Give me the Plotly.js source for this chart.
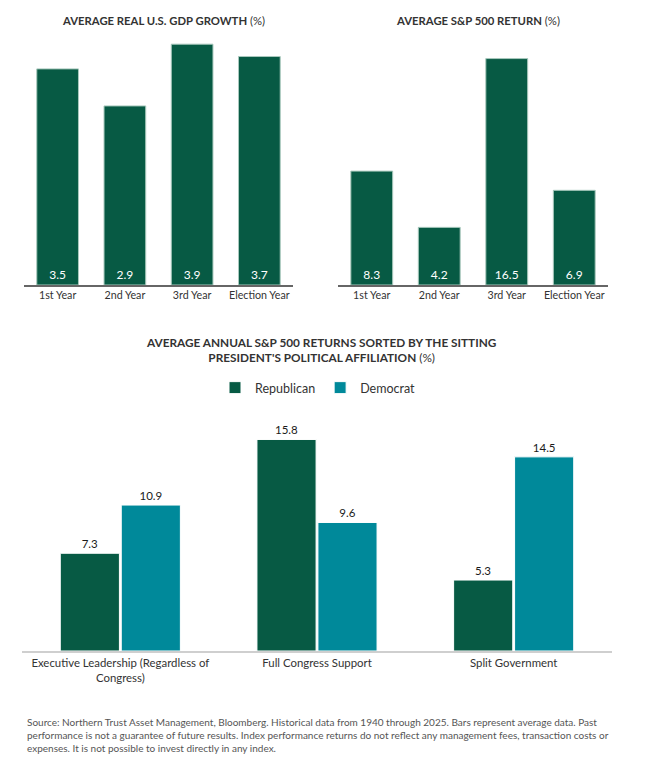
<!DOCTYPE html>
<html>
<head>
<meta charset="utf-8">
<script src="https://cdn.plot.ly/plotly-3.0.1.min.js"></script>
<style>html,body{margin:0;padding:0;background:#fff;}#chart{width:657px;height:769px;}</style>
</head>
<body>
<div id="chart"></div>
<script>
const yearCategories = ["1st Year", "2nd Year", "3rd Year", "Election Year"];
const gdpGrowth = [3.5, 2.9, 3.9, 3.7];
const spReturn = [8.3, 4.2, 16.5, 6.9];

const groupCategories = ["Executive Leadership (Regardless of<br>Congress)", "Full Congress Support", "Split Government"];
const republicanReturns = [7.3, 15.8, 5.3];
const democratReturns = [10.9, 9.6, 14.5];

const W = 657, H = 769;
const px = v => v / W;
const py = v => 1 - v / H;

const GREEN = "#075a44";
const TEAL = "#00899a";
const FONT = "Lato, 'Open Sans', sans-serif";

const fmt = a => a.map(v => v.toFixed(1));

const traces = [
  {
    type: "bar", x: yearCategories, y: gdpGrowth, xaxis: "x", yaxis: "y",
    marker: {color: GREEN, line: {color: "#a9c9bd", width: 1}},
    text: fmt(gdpGrowth), textposition: "inside", insidetextanchor: "start",
    textfont: {color: "#ffffff", size: 12, family: FONT}, constraintext: "none",
    width: 0.62, showlegend: false, hoverinfo: "skip"
  },
  {
    type: "bar", x: yearCategories, y: spReturn, xaxis: "x2", yaxis: "y2",
    marker: {color: GREEN, line: {color: "#a9c9bd", width: 1}},
    text: fmt(spReturn), textposition: "inside", insidetextanchor: "start",
    textfont: {color: "#ffffff", size: 12, family: FONT}, constraintext: "none",
    width: 0.62, showlegend: false, hoverinfo: "skip"
  },
  {
    type: "bar", name: "Republican", x: groupCategories, y: republicanReturns, xaxis: "x3", yaxis: "y3",
    marker: {color: GREEN, line: {color: "#ffffff", width: 1}},
    text: fmt(republicanReturns), textposition: "outside", cliponaxis: false,
    textfont: {color: "#1a1a1a", size: 11.5, family: FONT}
  },
  {
    type: "bar", name: "Democrat", x: groupCategories, y: democratReturns, xaxis: "x3", yaxis: "y3",
    marker: {color: TEAL, line: {color: "#ffffff", width: 1}},
    text: fmt(democratReturns), textposition: "outside", cliponaxis: false,
    textfont: {color: "#1a1a1a", size: 11.5, family: FONT}
  }
];

const baseX = {
  showgrid: false, zeroline: false, showline: true, linewidth: 1.5, linecolor: "#666",
  ticks: "", tickfont: {size: 10.7, color: "#333", family: FONT}, fixedrange: true
};
const baseY = {showgrid: false, zeroline: false, showline: false, showticklabels: false, ticks: "", fixedrange: true};

const layout = {
  width: W, height: H,
  margin: {l: 0, r: 0, t: 0, b: 0},
  paper_bgcolor: "#ffffff", plot_bgcolor: "#ffffff",
  font: {family: FONT, color: "#333"},
  barmode: "group", bargap: 0.38, bargroupgap: 0.03,
  xaxis: Object.assign({}, baseX, {domain: [px(24), px(293)], range: [-0.5, 3.5], anchor: "y"}),
  yaxis: Object.assign({}, baseY, {domain: [py(285), py(38)], range: [0, 4.0], anchor: "x"}),
  xaxis2: Object.assign({}, baseX, {domain: [px(338), px(608)], range: [-0.5, 3.5], anchor: "y2"}),
  yaxis2: Object.assign({}, baseY, {domain: [py(285), py(38)], range: [0, 18.0], anchor: "x2"}),
  xaxis3: Object.assign({}, baseX, {domain: [px(22), px(612)], range: [-0.5, 2.5], anchor: "y3",
    linecolor: "#cfcfcf", linewidth: 2, tickfont: {size: 11.4, color: "#333", family: FONT}}),
  yaxis3: Object.assign({}, baseY, {domain: [py(651), py(410)], range: [0, 18.0], anchor: "x3"}),
  legend: {
    orientation: "h", x: px(318), xanchor: "center", y: py(388), yanchor: "middle",
    font: {size: 12.5, color: "#333", family: FONT}, traceorder: "normal", itemwidth: 30
  },
  annotations: [
    {text: "<b>AVERAGE REAL U.S. GDP GROWTH</b> (%)", xref: "paper", yref: "paper",
      x: px(163), y: py(20), xanchor: "center", yanchor: "middle", showarrow: false,
      font: {size: 11.3, color: "#333", family: FONT}},
    {text: "<b>AVERAGE S&amp;P 500 RETURN</b> (%)", xref: "paper", yref: "paper",
      x: px(478), y: py(20), xanchor: "center", yanchor: "middle", showarrow: false,
      font: {size: 11.3, color: "#333", family: FONT}},
    {text: "<b>AVERAGE ANNUAL S&amp;P 500 RETURNS SORTED BY THE SITTING</b><br><b>PRESIDENT'S POLITICAL AFFILIATION</b> (%)",
      xref: "paper", yref: "paper", x: px(321), y: py(350), xanchor: "center", yanchor: "middle",
      showarrow: false, align: "center", font: {size: 11.8, color: "#333", family: FONT}},
    {text: "Source: Northern Trust Asset Management, Bloomberg. Historical data from 1940 through 2025. Bars represent average data. Past<br>performance is not a guarantee of future results. Index performance returns do not reflect any management fees, transaction costs or<br>expenses. It is not possible to invest directly in any index.",
      xref: "paper", yref: "paper", x: px(25), y: py(714), xanchor: "left", yanchor: "top",
      showarrow: false, align: "left", font: {size: 10, color: "#555", family: FONT}}
  ]
};

Plotly.newPlot("chart", traces, layout, {displayModeBar: false, staticPlot: true});
</script>
</body>
</html>
